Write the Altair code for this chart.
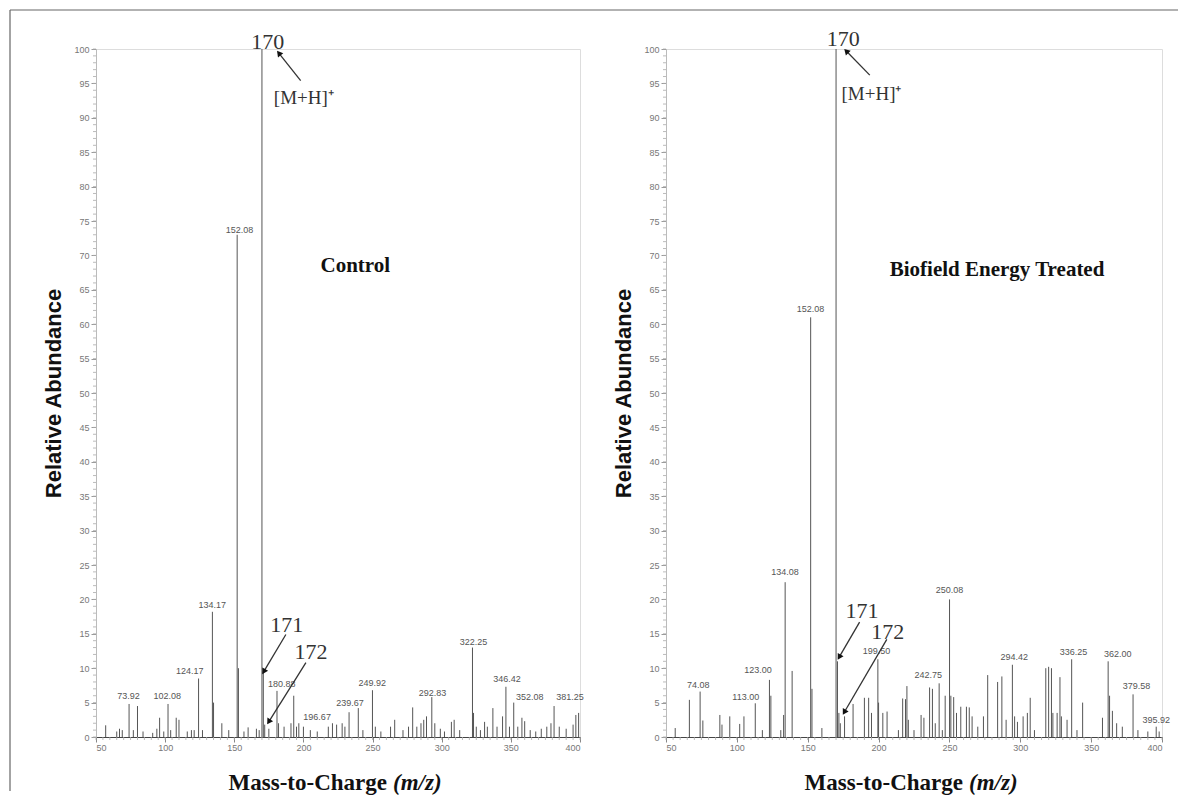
import math
import altair as alt
import pandas as pd

# ---------------- Control spectrum ----------------
ctrl_mz = [57, 65, 67, 69, 73.92, 77, 80, 84, 91, 94, 96, 99, 102.08, 104, 108,
           110, 116, 119, 121, 124.17, 127, 134.17, 135, 141, 146, 152.08, 153, 157, 160, 166,
           168, 170, 171, 172, 175, 180.88, 182, 186, 191, 193, 195, 196.67, 200, 205, 210,
           218, 221, 224, 228, 230, 233, 239.67, 243, 249.92, 252, 256, 263, 266, 272, 276,
           279, 282, 285, 287, 289, 292.83, 295, 299, 302, 307, 309, 313, 322.25, 323, 325,
           328, 331, 333, 337, 340, 344, 346.42, 349, 352.08, 355, 358, 360, 364, 368, 372,
           376, 379, 381.25, 385, 390, 395, 397, 399]
ctrl_ab = [1.7, 0.8, 1.2, 1.0, 4.8, 1.0, 4.5, 0.8, 0.6, 1.2, 2.8, 0.8, 4.8, 1.0, 2.8,
           2.5, 0.8, 1.0, 1.0, 8.5, 1.0, 18.2, 5.0, 2.0, 1.0, 73.0, 10.0, 0.8, 1.4, 1.2,
           1.0, 100, 9.5, 1.8, 1.2, 6.7, 2.0, 1.5, 2.0, 6.0, 1.5, 2.0, 1.5, 1.0, 0.8,
           1.5, 2.0, 1.8, 2.0, 1.5, 3.6, 4.2, 1.0, 6.8, 1.5, 0.8, 1.5, 2.5, 1.0, 1.5,
           4.3, 1.5, 2.0, 2.5, 3.0, 5.8, 2.0, 1.2, 0.8, 2.2, 2.5, 1.0, 13.0, 3.5, 1.5,
           1.0, 2.2, 1.5, 4.2, 1.5, 3.0, 7.3, 1.5, 5.0, 1.5, 2.8, 2.3, 1.0, 0.8, 1.2,
           1.5, 2.0, 4.5, 1.5, 1.2, 1.8, 3.2, 3.5]
ctrl_lbl_text = ["73.92", "102.08", "124.17", "134.17", "152.08", "180.88", "196.67",
                 "239.67", "249.92", "292.83", "322.25", "346.42", "352.08", "381.25"]
ctrl_lbl_mz = [73.5, 101.6, 117.8, 134.0, 153.8, 184.4, 209.9,
               233.6, 249.8, 293.4, 323.0, 347.2, 363.6, 392.7]
ctrl_lbl_ab = [5.9, 6.0, 9.6, 19.2, 73.7, 7.7, 2.9,
               5.0, 7.9, 6.4, 13.8, 8.5, 5.8, 5.8]

# ---------------- Biofield Energy Treated spectrum ----------------
treat_mz = [56.5, 66.5, 74.08, 76, 88, 89.5, 95, 102, 105, 113.00, 118, 123.00, 124, 131, 133,
            134.08, 139, 152.08, 153, 160, 170, 171, 172, 173, 176, 182, 190, 193, 195, 199.50,
            200, 203, 206, 214, 217, 219, 220, 221, 225, 230, 232, 236, 238, 240, 242.75,
            245, 247, 250.08, 251, 253, 255, 258, 262, 264, 266, 270, 274, 277, 284, 287,
            290, 294.42, 296, 298, 302, 305, 307, 310, 318, 320, 322, 323, 326, 328, 329,
            333, 336.25, 340, 344, 358, 362.00, 363, 365, 368, 372, 379.58, 383, 390, 395.92, 398]
treat_ab = [1.3, 5.4, 6.6, 2.4, 3.2, 1.8, 3.0, 1.9, 3.0, 4.9, 1.0, 8.3, 6.0, 1.0, 3.2,
            22.5, 9.6, 61.0, 7.0, 1.3, 100, 11.0, 3.5, 2.0, 3.0, 4.8, 5.7, 5.7, 3.5, 11.3,
            5.0, 3.5, 3.7, 1.0, 5.6, 5.5, 7.4, 2.5, 1.0, 3.2, 2.8, 7.2, 7.0, 2.0, 7.8,
            1.0, 6.0, 20.0, 6.0, 5.8, 3.5, 4.4, 4.4, 4.3, 3.0, 1.5, 3.0, 9.0, 8.0, 8.8,
            2.5, 10.5, 3.0, 2.2, 3.0, 3.5, 5.7, 1.0, 10.0, 10.2, 10.0, 3.5, 3.5, 8.7, 3.0,
            2.5, 11.3, 1.0, 5.0, 2.8, 11.0, 6.0, 3.8, 2.0, 1.5, 6.2, 1.0, 0.8, 1.5, 0.8]
treat_lbl_text = ["74.08", "113.00", "123.00", "134.08", "152.08", "199.50", "242.75",
                  "250.08", "294.42", "336.25", "362.00", "379.58", "395.92"]
treat_lbl_mz = [72.8, 106.3, 115.0, 133.9, 152.0, 198.6, 235.0,
                250.0, 295.7, 337.6, 368.8, 382.0, 396.0]
treat_lbl_ab = [7.6, 5.8, 9.7, 24.0, 62.2, 12.5, 9.0,
                21.4, 11.7, 12.4, 12.0, 7.4, 2.4]

# annotations (text, m/z, abundance)
ann_text = ["170", "[M+H]\u207a", "171", "172"]
ctrl_ann_mz = [174.2, 200.3, 188.0, 205.4]
ctrl_ann_ab = [101.0, 92.9, 16.3, 12.4]
treat_ann_mz = [175.0, 195.0, 188.3, 206.5]
treat_ann_ab = [101.5, 93.4, 18.3, 15.3]

# arrows: start (mz, ab) -> end (mz, ab)
ctrl_arr_mz0 = [198.0, 187.3, 201.8]
ctrl_arr_ab0 = [95.4, 14.9, 10.8]
ctrl_arr_mz1 = [182.2, 171.3, 174.9]
ctrl_arr_ab1 = [99.4, 9.5, 2.2]
treat_arr_mz0 = [193.8, 186.6, 205.8]
treat_arr_ab0 = [96.2, 16.7, 14.2]
treat_arr_mz1 = [177.2, 172.2, 175.8]
treat_arr_ab1 = [99.7, 11.6, 3.6]

panel_titles = ["Control", "Biofield Energy Treated"]
ctrl_title_pos = (237.5, 68.4)
treat_title_pos = (283.6, 67.9)

x_tick_values = [50, 100, 150, 200, 250, 300, 350, 400]
y_tick_values = [0, 5, 10, 15, 20, 25, 30, 35, 40, 45, 50, 55, 60, 65, 70, 75, 80, 85, 90, 95, 100]

W_L, W_R, H = 484, 496, 688
XD = [50, 400]
YD = [0, 100]

SERIF = "Liberation Serif"
SANS = "Liberation Sans"


def panel(W, mz, ab, lt, lmz, lab, amz, aab, r_mz0, r_ab0, r_mz1, r_ab1, title, tpos,
          frame=False):
    xs = alt.Scale(domain=XD, nice=False, zero=False)
    ys = alt.Scale(domain=YD, nice=False)
    xaxis = alt.Axis(values=x_tick_values, labelFontSize=9, labelColor="#777",
                     labelFont=SANS, tickSize=5, tickColor="#888", domainColor="#444",
                     grid=False, title=None, labelPadding=1, labelOverlap=False)
    yaxis = alt.Axis(values=y_tick_values, labelFontSize=9, labelColor="#777",
                     labelFont=SANS, tickSize=5, tickColor="#999", domainColor="#bbb",
                     grid=False, title="Relative Abundance", titleFont=SANS,
                     titleFontSize=22, titleFontWeight="bold", titleColor="#111",
                     titlePadding=8, labelPadding=2, labelOverlap=False)

    def X(f):
        return alt.X(f, scale=xs, axis=xaxis)

    def Y(f):
        return alt.Y(f, scale=ys, axis=yaxis)

    peaks = pd.DataFrame({"mz": mz, "ab": ab, "base": [0] * len(mz)})
    base = alt.Chart(peaks).mark_rule(color="#555", strokeWidth=1).encode(
        x=X("mz:Q"), y=Y("base:Q"), y2="ab:Q")

    # minor ticks
    ymin = pd.DataFrame({"v": list(range(0, 101))})
    yminor = alt.Chart(ymin).mark_rule(color="#aaa", strokeWidth=0.8).encode(
        y=Y("v:Q"), x=alt.value(-3), x2=alt.value(0))
    xmin = pd.DataFrame({"v": list(range(50, 401, 5))})
    xminor = alt.Chart(xmin).mark_rule(color="#aaa", strokeWidth=0.8).encode(
        x=X("v:Q"), y=alt.value(H), y2=alt.value(H + 3))

    lbl = pd.DataFrame({"t": lt, "mz": lmz, "ab": lab})
    labels = alt.Chart(lbl).mark_text(font=SANS, fontSize=9, color="#555",
                                      baseline="middle", align="center").encode(
        x=X("mz:Q"), y=Y("ab:Q"), text="t:N")

    ann = pd.DataFrame({"t": ann_text, "mz": amz, "ab": aab,
                        "fs": [22, 19, 22, 22]})
    annot = alt.Chart(ann).mark_text(font=SERIF, color="#333", baseline="middle",
                                     align="center").encode(
        x=X("mz:Q"), y=Y("ab:Q"), text="t:N",
        size=alt.Size("fs:Q", scale=None, legend=None))

    angles = []
    for a0, b0, a1, b1 in zip(r_mz0, r_ab0, r_mz1, r_ab1):
        dx = (a1 - a0) * W / (XD[1] - XD[0])
        dy = -(b1 - b0) * H / (YD[1] - YD[0])
        angles.append(math.degrees(math.atan2(dx, -dy)) % 360)
    arr = pd.DataFrame({"mz0": r_mz0, "ab0": r_ab0, "mz1": r_mz1, "ab1": r_ab1,
                        "ang": angles})
    arrows = alt.Chart(arr).mark_rule(color="#333", strokeWidth=1.3).encode(
        x=X("mz0:Q"), y=Y("ab0:Q"), x2="mz1:Q", y2="ab1:Q")
    heads = alt.Chart(arr).mark_point(shape="triangle-up", filled=True, color="#111",
                                      size=45, opacity=1).encode(
        x=X("mz1:Q"), y=Y("ab1:Q"),
        angle=alt.Angle("ang:Q", scale=None))

    tdf = pd.DataFrame({"t": [title], "mz": [tpos[0]], "ab": [tpos[1]]})
    ttl = alt.Chart(tdf).mark_text(font=SERIF, fontSize=21, fontWeight="bold",
                                   color="#111", baseline="middle", align="center").encode(
        x=X("mz:Q"), y=Y("ab:Q"), text="t:N")

    # x-axis title: "Mass-to-Charge" (bold) + "(m/z)" (bold italic)
    xt1 = alt.Chart(pd.DataFrame({"t": ["Mass-to-Charge"]})).mark_text(
        font=SERIF, fontSize=23, fontWeight="bold", color="#111",
        align="right", baseline="middle", dx=-3).encode(
        text="t:N", x=alt.value(W / 2 + 52), y=alt.value(H + 46))
    xt2 = alt.Chart(pd.DataFrame({"t": ["(m/z)"]})).mark_text(
        font=SERIF, fontSize=23, fontWeight="bold", fontStyle="italic", color="#111",
        align="left", baseline="middle", dx=3).encode(
        text="t:N", x=alt.value(W / 2 + 52), y=alt.value(H + 46))

    layers = [base, yminor, xminor, labels, annot, arrows, heads, ttl, xt1, xt2]
    if frame:
        # figure frame (top and left edges)
        ftop = alt.Chart(pd.DataFrame({"k": [0]})).mark_rule(
            color="#666", strokeWidth=1.2).encode(
            x=alt.value(-86), x2=alt.value(1082), y=alt.value(-39))
        fleft = alt.Chart(pd.DataFrame({"k": [0]})).mark_rule(
            color="#666", strokeWidth=1.2).encode(
            x=alt.value(-86), y=alt.value(-39), y2=alt.value(H + 54))
        layers += [ftop, fleft]
    return alt.layer(*layers).properties(width=W, height=H)


left = panel(W_L, ctrl_mz, ctrl_ab, ctrl_lbl_text, ctrl_lbl_mz, ctrl_lbl_ab,
             ctrl_ann_mz, ctrl_ann_ab, ctrl_arr_mz0, ctrl_arr_ab0, ctrl_arr_mz1, ctrl_arr_ab1,
             panel_titles[0], ctrl_title_pos, frame=True)
right = panel(W_R, treat_mz, treat_ab, treat_lbl_text, treat_lbl_mz, treat_lbl_ab,
              treat_ann_mz, treat_ann_ab, treat_arr_mz0, treat_arr_ab0, treat_arr_mz1,
              treat_arr_ab1, panel_titles[1], treat_title_pos)

chart = alt.hconcat(left, right, spacing=86, bounds="flush").properties(
    padding={"left": 0, "top": 0, "right": 0, "bottom": 0}
).configure_view(strokeWidth=0).configure(background="white")

chart.save("out.html", embed_options={"renderer": "svg", "actions": False})
